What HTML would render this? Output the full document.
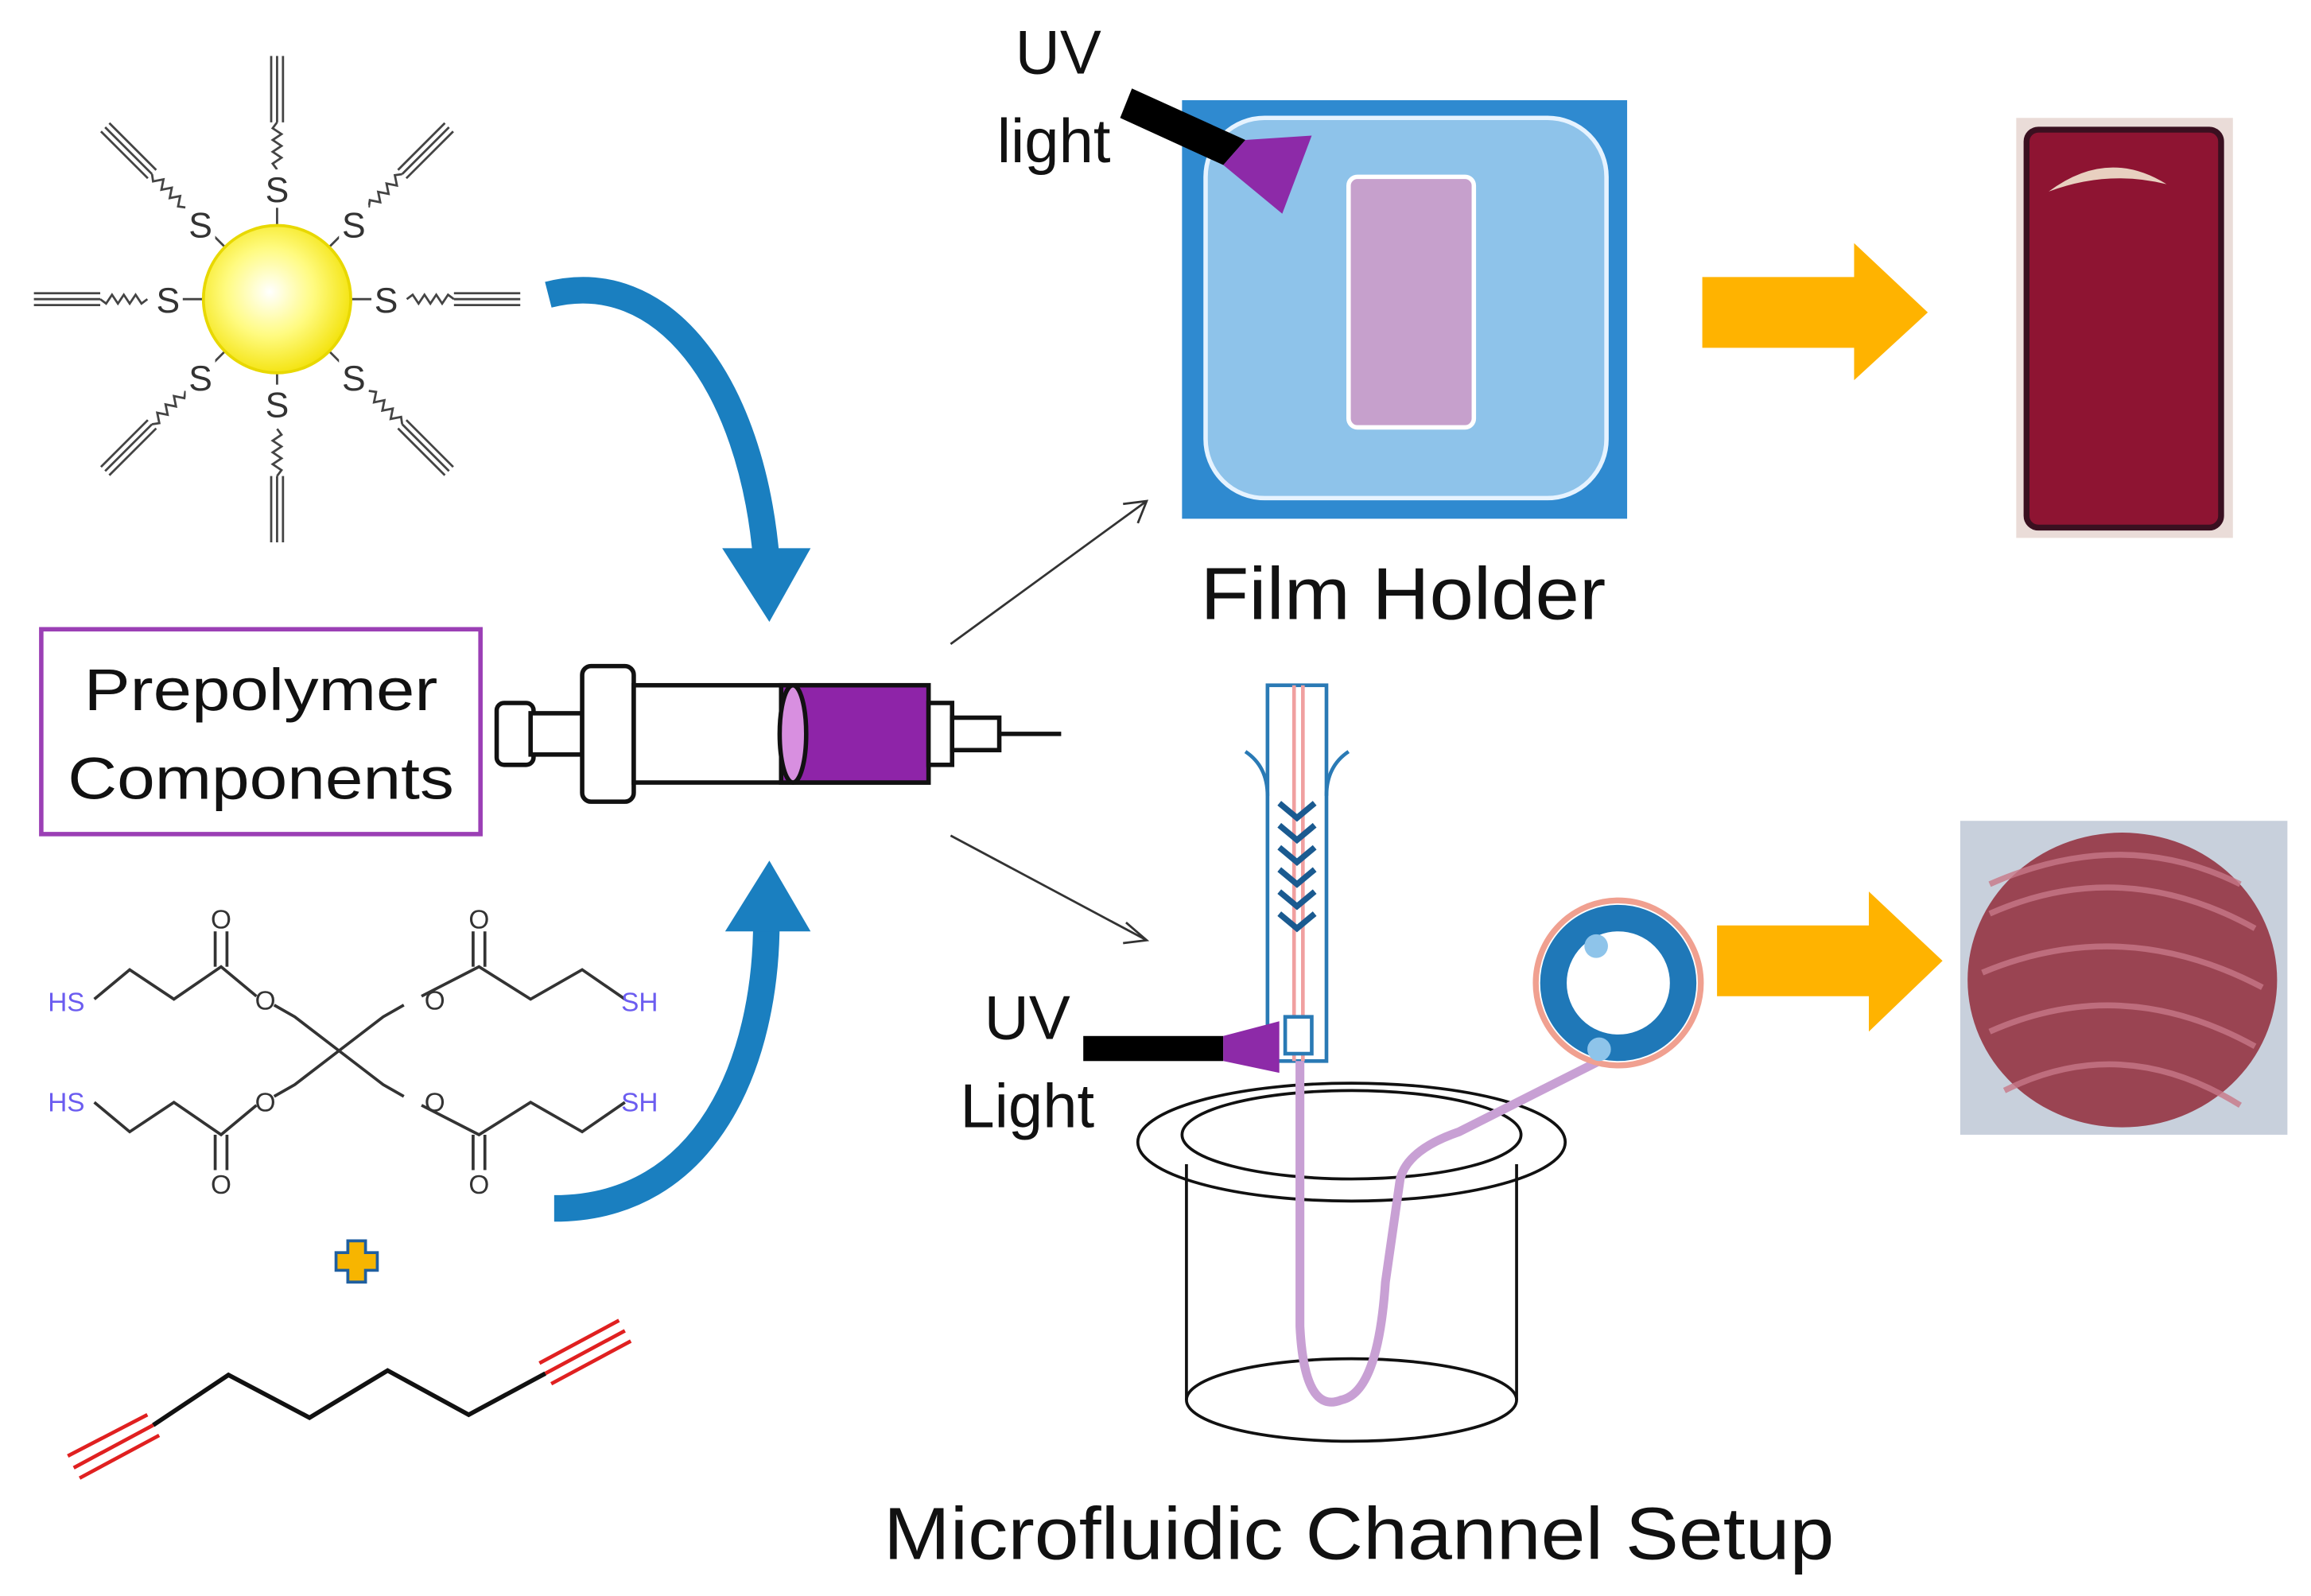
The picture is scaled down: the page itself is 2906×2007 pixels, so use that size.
<!DOCTYPE html>
<html><head><style>html,body{margin:0;padding:0;background:#fff}svg{display:block}</style></head>
<body>
<svg width="2906" height="2007" viewBox="0 0 1568 1083" preserveAspectRatio="none" xmlns="http://www.w3.org/2000/svg" font-family="Liberation Sans, DejaVu Sans, sans-serif">
<defs>
<radialGradient id="np" cx="0.45" cy="0.45" r="0.6"><stop offset="0" stop-color="#ffffff"/><stop offset="0.5" stop-color="#fffb80"/><stop offset="1" stop-color="#f2e000"/></radialGradient>
<g id="lig" fill="none" stroke="#444" stroke-width="1.5">
<polyline points="88,0 92,-3 96,3 100,-3 104,3 108,-3 112,3 116,-3 120,0"/>
<line x1="120" y1="0" x2="165" y2="0"/><line x1="120" y1="-4" x2="165" y2="-4"/><line x1="120" y1="4" x2="165" y2="4"/>
</g>
</defs>
<rect width="1568" height="1083" fill="#fff"/>
<g transform="translate(188,203)">
<use href="#lig" transform="rotate(0)"/><use href="#lig" transform="rotate(45)"/><use href="#lig" transform="rotate(90)"/><use href="#lig" transform="rotate(135)"/><use href="#lig" transform="rotate(180)"/><use href="#lig" transform="rotate(225)"/><use href="#lig" transform="rotate(270)"/><use href="#lig" transform="rotate(315)"/>
<g stroke="#444" stroke-width="1.5"><line x1="0" y1="0" x2="70" y2="0" transform="rotate(0)"/><line x1="0" y1="0" x2="70" y2="0" transform="rotate(45)"/><line x1="0" y1="0" x2="70" y2="0" transform="rotate(90)"/><line x1="0" y1="0" x2="70" y2="0" transform="rotate(135)"/><line x1="0" y1="0" x2="70" y2="0" transform="rotate(180)"/><line x1="0" y1="0" x2="70" y2="0" transform="rotate(225)"/><line x1="0" y1="0" x2="70" y2="0" transform="rotate(270)"/><line x1="0" y1="0" x2="70" y2="0" transform="rotate(315)"/></g>
<circle r="50" fill="url(#np)" stroke="#e8d800" stroke-width="2"/>
<g font-size="24" fill="#333" text-anchor="middle">
<rect x="64" y="-13" width="20" height="26" fill="#fff"/><text x="74" y="9">S</text>
<rect x="-84" y="-13" width="20" height="26" fill="#fff"/><text x="-74" y="9">S</text>
<rect x="-10" y="-88" width="20" height="26" fill="#fff"/><text x="0" y="-66">S</text>
<rect x="-10" y="58" width="20" height="26" fill="#fff"/><text x="0" y="80">S</text>
<rect x="42" y="-64" width="20" height="26" fill="#fff"/><text x="52" y="-42">S</text>
<rect x="-62" y="-64" width="20" height="26" fill="#fff"/><text x="-52" y="-42">S</text>
<rect x="42" y="40" width="20" height="26" fill="#fff"/><text x="52" y="62">S</text>
<rect x="-62" y="40" width="20" height="26" fill="#fff"/><text x="-52" y="62">S</text>
</g>
</g>
<path d="M372,200 C450,180 510,260 520,380" fill="none" stroke="#1a7fc0" stroke-width="18"/>
<polygon points="490,372 550,372 522,422" fill="#1a7fc0"/>
<path d="M376,820 C480,820 520,720 520,625" fill="none" stroke="#1a7fc0" stroke-width="18"/>
<polygon points="492,632 550,632 522,584" fill="#1a7fc0"/>
<rect x="28" y="427" width="298" height="139" fill="#fff" stroke="#9b3fb5" stroke-width="3"/>
<text x="177" y="482" font-size="40" text-anchor="middle" fill="#111" textLength="240" lengthAdjust="spacingAndGlyphs">Prepolymer</text>
<text x="177" y="542" font-size="40" text-anchor="middle" fill="#111" textLength="262" lengthAdjust="spacingAndGlyphs">Components</text>
<g stroke="#111" stroke-width="3" fill="#fff">
<rect x="337" y="477" width="25" height="42" rx="5"/>
<rect x="360" y="484" width="35" height="28"/>
<rect x="395" y="452" width="35" height="92" rx="6"/>
<rect x="430" y="465" width="200" height="66"/>
<rect x="530" y="465" width="100" height="66" fill="#8e24a8"/>
<ellipse cx="538" cy="498" rx="9" ry="33" fill="#d88fe0"/>
<rect x="630" y="477" width="16" height="42"/>
<rect x="646" y="487" width="32" height="22"/>
<line x1="678" y1="498" x2="720" y2="498"/>
</g>
<g stroke="#333" stroke-width="1.5" fill="none">
<line x1="645" y1="437" x2="778" y2="340"/><polyline points="762,342 778,340 772,355"/>
<line x1="645" y1="567" x2="778" y2="638"/><polyline points="764,626 778,638 762,640"/>
</g>
<g fill="none" stroke="#333" stroke-width="2">
<polyline points="230,713 200,690 186,682"/><polyline points="174,676 150,656 118,678 88,658 64,678"/>
<polyline points="230,713 260,690 274,682"/><polyline points="286,676 325,656 360,678 395,658 424,678"/>
<polyline points="230,713 200,736 186,744"/><polyline points="174,750 150,770 118,748 88,768 64,748"/>
<polyline points="230,713 260,736 274,744"/><polyline points="286,750 325,770 360,748 395,768 424,748"/>
<line x1="146" y1="656" x2="146" y2="632"/><line x1="154" y1="656" x2="154" y2="632"/>
<line x1="321" y1="656" x2="321" y2="632"/><line x1="329" y1="656" x2="329" y2="632"/>
<line x1="146" y1="770" x2="146" y2="794"/><line x1="154" y1="770" x2="154" y2="794"/>
<line x1="321" y1="770" x2="321" y2="794"/><line x1="329" y1="770" x2="329" y2="794"/>
</g>
<g font-size="18" fill="#333" text-anchor="middle">
<text x="150" y="630">O</text><text x="325" y="630">O</text><text x="180" y="685">O</text><text x="295" y="685">O</text>
<text x="180" y="754">O</text><text x="295" y="754">O</text><text x="150" y="810">O</text><text x="325" y="810">O</text>
</g>
<g font-size="18" fill="#6b5cf0" text-anchor="middle"><text x="45" y="686">HS</text><text x="434" y="686">SH</text><text x="45" y="754">HS</text><text x="434" y="754">SH</text></g>
<path d="M236,842 h12 v8 h8 v12 h-8 v8 h-12 v-8 h-8 v-12 h8 z" fill="#f7b500" stroke="#1f5fa0" stroke-width="2"/>
<g stroke="#e02020" stroke-width="2.5">
<line x1="46" y1="988" x2="100" y2="960"/><line x1="50" y1="996" x2="104" y2="967"/><line x1="54" y1="1003" x2="108" y2="974"/>
<line x1="366" y1="925" x2="420" y2="896"/><line x1="370" y1="932" x2="424" y2="903"/><line x1="374" y1="939" x2="428" y2="910"/>
</g>
<polyline points="104,967 155,933 210,962 263,930 318,960 370,932" fill="none" stroke="#111" stroke-width="3"/>
<!-- film holder -->
<rect x="802" y="68" width="302" height="284" fill="#2f8ad0"/>
<rect x="818" y="80" width="272" height="258" rx="40" fill="#8ec3ea" stroke="#e6f3ff" stroke-width="3"/>
<rect x="915" y="120" width="85" height="170" rx="6" fill="#c6a0cc" stroke="#fff" stroke-width="3"/>
<polygon points="760,80 768,60 845,95 830,112" fill="#000"/>
<polygon points="830,112 845,95 890,92 870,145" fill="#8d2aa8"/>
<text x="718" y="50" font-size="42" text-anchor="middle" fill="#111">UV</text>
<text x="715" y="110" font-size="42" text-anchor="middle" fill="#111">light</text>
<text x="952" y="420" font-size="50" text-anchor="middle" fill="#111" textLength="275" lengthAdjust="spacingAndGlyphs">Film Holder</text>
<polygon points="1155,188 1258,188 1258,165 1308,212 1258,258 1258,236 1155,236" fill="#ffb300"/>
<polygon points="1165,628 1268,628 1268,605 1318,652 1268,700 1268,676 1165,676" fill="#ffb300"/>
<!-- red film -->
<rect x="1368" y="80" width="147" height="285" fill="#eadcd8"/>
<rect x="1375" y="88" width="132" height="270" rx="8" fill="#8e1432" stroke="#3a1020" stroke-width="4"/>
<path d="M1390,130 Q1430,100 1470,125 Q1430,115 1390,130" fill="#e8d0c0"/>
<!-- noodles -->
<rect x="1330" y="557" width="222" height="213" fill="#c8d0dc"/>
<ellipse cx="1440" cy="665" rx="105" ry="100" fill="#9a4452"/>
<g fill="none" stroke="#c87888" stroke-width="4" opacity="0.8">
<path d="M1350,620 Q1440,580 1530,630"/><path d="M1345,660 Q1440,620 1535,670"/><path d="M1350,700 Q1440,660 1530,710"/><path d="M1360,740 Q1440,700 1520,750"/><path d="M1350,600 Q1440,560 1520,600"/>
</g>
<!-- microfluidic device -->
<g fill="none" stroke="#2a7ab5" stroke-width="2.5">
<rect x="860" y="465" width="40" height="255"/>
<path d="M845,510 Q860,520 860,540 M915,510 Q900,520 900,540"/>
<line x1="878" y1="465" x2="878" y2="720" stroke="#f0a0a0"/><line x1="884" y1="465" x2="884" y2="720" stroke="#f0a0a0"/>
<path d="M868,545 L880,555 L892,545 M868,560 L880,570 L892,560 M868,575 L880,585 L892,575 M868,590 L880,600 L892,590 M868,605 L880,615 L892,605 M868,620 L880,630 L892,620" stroke="#1a5a90" stroke-width="4"/>
<rect x="872" y="690" width="18" height="25" fill="#fff"/>
</g>
<rect x="735" y="703" width="95" height="17" fill="#000"/>
<polygon points="830,703 868,693 868,728 830,720" fill="#8d2aa8"/>
<text x="697" y="705" font-size="42" text-anchor="middle" fill="#111">UV</text>
<text x="697" y="765" font-size="42" text-anchor="middle" fill="#111">Light</text>
<g fill="none" stroke="#111" stroke-width="2">
<ellipse cx="917" cy="775" rx="145" ry="40"/>
<ellipse cx="917" cy="770" rx="115" ry="30"/>
<ellipse cx="917" cy="950" rx="112" ry="28"/>
<line x1="805" y1="790" x2="805" y2="950"/><line x1="1029" y1="790" x2="1029" y2="950"/>
</g>
<path d="M882,720 L882,900 Q885,960 910,950 Q935,945 940,870 L950,800 Q955,780 990,768 L1085,720" fill="none" stroke="#c8a0d4" stroke-width="6"/>
<circle cx="1098" cy="667" r="56" fill="none" stroke="#f0a090" stroke-width="4"/>
<circle cx="1098" cy="667" r="44" fill="none" stroke="#1f78b8" stroke-width="18"/>
<circle cx="1083" cy="642" r="8" fill="#8ec4ea"/><circle cx="1085" cy="712" r="8" fill="#8ec4ea"/>
<text x="922" y="1058" font-size="50" text-anchor="middle" fill="#111" textLength="645" lengthAdjust="spacingAndGlyphs">Microfluidic Channel Setup</text>
</svg>
</body></html>
